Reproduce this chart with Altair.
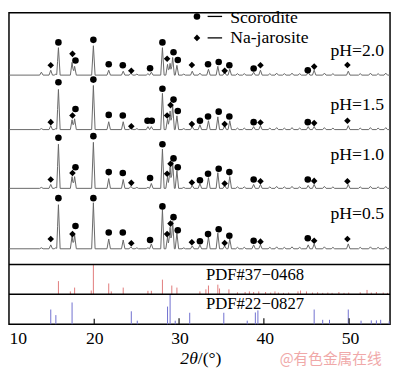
import altair as alt
import pandas as pd

# ---------------- data ----------------
X_MIN, X_MAX = 10, 54.7
Y_MAX = 318

TRACES = ["pH=2.0", "pH=1.5", "pH=1.0", "pH=0.5"]
BASELINES = [254.3, 198.7, 138.7, 77.0]   # stacking offsets (a.u.)

PEAK_POS = [13.8, 14.9, 15.5, 15.8, 17.4, 17.7, 19.9, 21.7, 23.4, 24.3, 25.0, 26.3, 26.7,
            28.0, 28.6, 28.9, 29.2, 29.7, 30.5, 31.5, 32.4, 33.4, 34.5, 35.3, 35.9, 36.8,
            37.6, 38.7, 39.5, 40.6, 41.4, 42.3, 43.2, 44.1, 45.1, 45.8, 47.0, 48.0, 49.8,
            51.2, 52.4, 53.3, 54.2]
PEAK_H_20 = [3, 5, 1, 28, 13, 9, 30, 5, 4, 2, 1, 1.5, 3, 28, 11, 12, 18, 10, 1, 4, 2, 6, 9,
             3, 6, 1.5, 1.5, 3, 5, 1.5, 2, 1.5, 2, 1.5, 3, 5, 2, 1.5, 4, 1.5, 2, 1.5, 2]
PEAK_H_15 = [1, 4, 1, 41, 10, 11, 45, 8, 8, 2, 1, 3, 3, 37, 11, 19, 25, 14, 1, 3, 5, 9, 13,
             4, 9, 1.5, 1.5, 3, 4, 1.5, 2, 1.5, 2, 1.5, 3, 3, 2, 1.5, 4, 1.5, 2, 1.5, 2]
PEAK_H_10 = [1, 4, 1, 45, 12, 12, 47, 10, 9, 2, 1, 1, 5, 40, 12, 22, 27, 18, 1, 3, 5, 11, 16,
             3, 12, 1.5, 1.5, 4, 4, 1.5, 2, 1.5, 2, 1.5, 3, 4, 2, 1.5, 4, 1.5, 2, 1.5, 2]
PEAK_H_05 = [1, 4, 1, 45, 13, 14, 47, 10, 9, 2, 1, 1, 5, 40, 12, 22, 28, 16, 1, 3, 4, 12, 16,
             3, 10, 1.5, 1.5, 4, 4, 1.5, 2, 1.5, 2, 1.5, 4, 5, 2, 1.5, 5, 1.5, 2, 1.5, 2]
PEAK_HEIGHTS = [PEAK_H_20, PEAK_H_15, PEAK_H_10, PEAK_H_05]

MK_POS = [14.9, 15.8, 17.45, 17.8, 19.9, 21.7, 23.35, 24.35, 26.25, 26.55, 26.75, 28.0, 28.55,
          28.95, 29.3, 29.8, 31.45, 32.4, 33.35, 34.6, 35.3, 35.85, 38.7, 39.5, 45.05, 45.8, 49.7]
MK_KIND = ["Na-jarosite", "Scorodite", "Na-jarosite", "Scorodite", "Scorodite", "Scorodite",
           "Scorodite", "Na-jarosite", "Scorodite", "Scorodite", "Scorodite", "Scorodite",
           "Na-jarosite", "Na-jarosite", "Scorodite", "Scorodite", "Na-jarosite", "Scorodite",
           "Scorodite", "Scorodite", "Na-jarosite", "Scorodite", "Scorodite", "Na-jarosite",
           "Scorodite", "Na-jarosite", "Na-jarosite"]
MK_H_20 = [10, 33.4, 21.7, 15, 36, 11, 10, 4.4, None, 7, None, 33.4, 16.7, None, 23.4, 15.4,
           10.4, None, 11, 13.4, 4.4, 10, 6.7, 10, 5, 8.7, 10.4]
MK_H_15 = [7.6, 48.3, 14.3, 21, 51, 15, 14.3, 3.3, 9, None, 9, 41.6, 14.3, 25, 30.6, 19, 5.6,
           9, 13.3, 18.3, 5.6, 13.3, 7.6, 7.3, 7.6, 6.6, 9]
MK_H_10 = [9, 51.6, 15.6, 21.6, 53.3, 16.6, 15.6, 5.6, None, 10.6, None, 45, 15, 25, 30.6,
           21.6, 6, 8.3, 15, 20, 5, 16.6, 9, 7.3, 9, 7.6, 7.3]
MK_H_05 = [10, 51.7, 15, 23.3, 51.7, 16.7, 16.7, 5.7, None, 9, None, 43.3, 15, 25.7, 32.3, 19,
           6.7, 7.7, 15, 20, 6, 13.3, 8.3, 7.3, 10.7, 8.3, 10]
MK_HEIGHTS = [MK_H_20, MK_H_15, MK_H_10, MK_H_05]

# Reference patterns (relative intensities)
PDF37_POS = [15.8, 17.2, 17.7, 19.65, 19.9, 21.7, 22.0, 23.4, 26.3, 26.7, 28.0, 29.1, 29.7,
             32.4, 33.1, 33.4, 34.5, 34.7, 35.8, 36.8, 37.7, 38.2, 38.7, 39.3, 40.1, 40.7,
             41.2, 41.6, 42.2, 42.8, 43.9, 44.2, 44.9, 45.6, 46.2, 46.8, 47.4, 47.9, 48.7,
             49.3, 49.85, 51.2, 52.0, 52.5, 53.1, 53.9, 54.4]
PDF37_REL = [0.45, 0.1, 0.23, 0.13, 1.0, 0.37, 0.1, 0.23, 0.12, 0.12, 0.5, 0.3, 0.23,
             0.1, 0.17, 0.3, 0.33, 0.2, 0.17, 0.07, 0.08, 0.1, 0.08, 0.1, 0.08, 0.06,
             0.1, 0.06, 0.05, 0.06, 0.1, 0.13, 0.1, 0.06, 0.07, 0.05, 0.06, 0.05, 0.08,
             0.05, 0.06, 0.07, 0.15, 0.06, 0.08, 0.06, 0.05]
PDF22_POS = [14.9, 15.5, 17.4, 24.35, 25.05, 28.6, 28.9, 29.5, 31.2, 35.2, 37.95, 38.9, 39.2,
             45.8, 46.8, 47.6, 49.8, 51.3, 52.5, 53.1, 53.6, 54.6]
PDF22_REL = [0.5, 0.31, 0.74, 0.44, 0.12, 0.6, 1.0, 0.12, 0.39, 0.39, 0.12, 0.4, 0.47,
             0.5, 0.15, 0.15, 0.5, 0.12, 0.13, 0.13, 0.15, 0.1]
PDF22B_POS = [20.0, 29.95, 39.9, 49.9]
PDF22B_REL = [0.19, 0.2, 0.2, 0.2]

# ---------------- layout constants ----------------
HW = 0.2                 # peak half width at base (deg)
PANEL_H = 30.0
PDF22_BASE, PDF37_BASE, MAIN_BASE = 0.0, 30.5, 61.0
SERIF = "Liberation Serif"

# ---------------- build tables ----------------
rows = []
for name, off, hts in zip(TRACES, BASELINES, PEAK_HEIGHTS):
    xs = {X_MIN, X_MAX}
    for p in PEAK_POS:
        xs.update([p - HW, p, p + HW])
    for x in sorted(xs):
        if x < X_MIN or x > X_MAX:
            continue
        y = off
        for p, h in zip(PEAK_POS, hts):
            d = abs(x - p)
            if d < HW:
                y += h * (1 - d / HW)
        rows.append({"trace": name, "x": round(x, 4), "y": y})
df_lines = pd.DataFrame(rows)

mrows = []
for name, off, hts in zip(TRACES, BASELINES, MK_HEIGHTS):
    for p, k, h in zip(MK_POS, MK_KIND, hts):
        if h is not None:
            mrows.append({"trace": name, "x": p, "y": off + h, "kind": k})
df_mk = pd.DataFrame(mrows)

df_p37 = pd.DataFrame({"x": PDF37_POS, "y0": PDF37_BASE,
                       "y1": [PDF37_BASE + r * PANEL_H for r in PDF37_REL]})
df_p22 = pd.DataFrame({"x": PDF22_POS, "y0": PDF22_BASE,
                       "y1": [PDF22_BASE + r * PANEL_H for r in PDF22_REL]})
df_p22b = pd.DataFrame({"x": PDF22B_POS, "y0": PDF22_BASE,
                        "y1": [PDF22_BASE + r * PANEL_H for r in PDF22B_REL]})
df_sep = pd.DataFrame({"y": [PDF37_BASE, MAIN_BASE]})

xs_ = alt.Scale(domain=[X_MIN, X_MAX], nice=False, zero=False)
ys_ = alt.Scale(domain=[0, Y_MAX], nice=False, zero=False)
shape_scale = alt.Scale(domain=["Scorodite", "Na-jarosite"], range=["circle", "diamond"])
x_axis = alt.Axis(values=[10, 20, 30, 40, 50], ticks=False, domain=False, grid=False,
                  labelFont=SERIF, labelFontSize=18, labelColor="black",
                  labelPadding=6, labelFlush=True, title=None)


def X(f="x"):
    return alt.X(f, type="quantitative", scale=xs_, axis=x_axis)


def Y(f="y"):
    return alt.Y(f, type="quantitative", scale=ys_, axis=None)


lines = alt.Chart(df_lines).mark_line(color="#666666", strokeWidth=1).encode(
    x=X(), y=Y(), detail="trace:N", order="x:Q")

markers = alt.Chart(df_mk).mark_point(filled=True, color="black", opacity=1, size=45).encode(
    x=X(), y=Y(), shape=alt.Shape("kind:N", scale=shape_scale, legend=None))

r37 = alt.Chart(df_p37).mark_rule(color="#e07a7a", strokeWidth=1).encode(x=X(), y=Y("y0"), y2="y1")
r22 = alt.Chart(df_p22).mark_rule(color="#6f6fcf", strokeWidth=1).encode(x=X(), y=Y("y0"), y2="y1")
r22b = alt.Chart(df_p22b).mark_rule(color="#111111", strokeWidth=1.2).encode(x=X(), y=Y("y0"), y2="y1")
seps = alt.Chart(df_sep).mark_rule(color="black", strokeWidth=1.5).encode(y=Y())

# legend (top)
df_leg = pd.DataFrame({"x": [32.05, 32.05], "y": [314.2, 292.3],
                       "kind": ["Scorodite", "Na-jarosite"],
                       "x1": [33.3, 33.3], "x2": [35.0, 35.0],
                       "tx": [35.95, 35.95], "ty": [312.3, 292.0]})
leg_pts = alt.Chart(df_leg).mark_point(filled=True, color="black", opacity=1, size=45).encode(
    x=X(), y=Y(), shape=alt.Shape("kind:N", scale=shape_scale, legend=None))
leg_lines = alt.Chart(df_leg).mark_rule(color="black", strokeWidth=1.3).encode(
    x=X("x1"), x2="x2", y=Y())
leg_text = alt.Chart(df_leg).mark_text(align="left", baseline="middle", font=SERIF,
                                       fontSize=18, color="black").encode(
    x=X("tx"), y=Y("ty"), text="kind:N")

# pH labels
df_ph = pd.DataFrame({"x": [54.0] * 4, "y": [278.7, 223.7, 172.7, 112.0], "t": TRACES})
ph_text = alt.Chart(df_ph).mark_text(align="right", baseline="middle", font=SERIF,
                                     fontSize=18, color="black").encode(
    x=X(), y=Y(), text="t:N")

# PDF labels
df_pdf = pd.DataFrame({"x": [33.1, 33.1], "y": [50.3, 20.3],
                       "t": ["PDF#37\u22120468", "PDF#22\u22120827"]})
pdf_text = alt.Chart(df_pdf).mark_text(align="left", baseline="middle", font=SERIF,
                                       fontSize=17, color="black").encode(
    x=X(), y=Y(), text="t:N")

# axis title "2θ/(°)"
df_t1 = pd.DataFrame({"x": [32.15], "y": [-36.0], "t": ["2\u03b8"]})
df_t2 = pd.DataFrame({"x": [32.15], "y": [-36.0], "t": ["/(\u00b0)"]})
t1 = alt.Chart(df_t1).mark_text(align="right", baseline="middle", font=SERIF, fontSize=18,
                                fontStyle="italic", color="black").encode(
    x=X(), y=Y(), text="t:N")
t2 = alt.Chart(df_t2).mark_text(align="left", baseline="middle", font=SERIF, fontSize=18,
                                color="black").encode(x=X(), y=Y(), text="t:N")

# watermark
df_wm = pd.DataFrame({"x": [41.75], "y": [-36.0], "t": ["@有色金属在线"]})
wm = alt.Chart(df_wm).mark_text(align="left", baseline="middle", font="Noto Sans CJK SC",
                                fontSize=15, color="#ee9a9a", opacity=0.85).encode(
    x=X(), y=Y(), text="t:N")

chart = alt.layer(
    r37, r22, r22b, lines, markers, seps, leg_lines, leg_pts, leg_text, ph_text, pdf_text,
    t1, t2, wm
).properties(
    width=389, height=Y_MAX,
    autosize=alt.AutoSizeParams(type="none"),
    padding={"left": 1, "top": 1, "right": 2, "bottom": 47},
).configure_view(stroke="black", strokeWidth=1.5)

chart.save("out.html", embed_options={"renderer": "svg", "actions": False})
